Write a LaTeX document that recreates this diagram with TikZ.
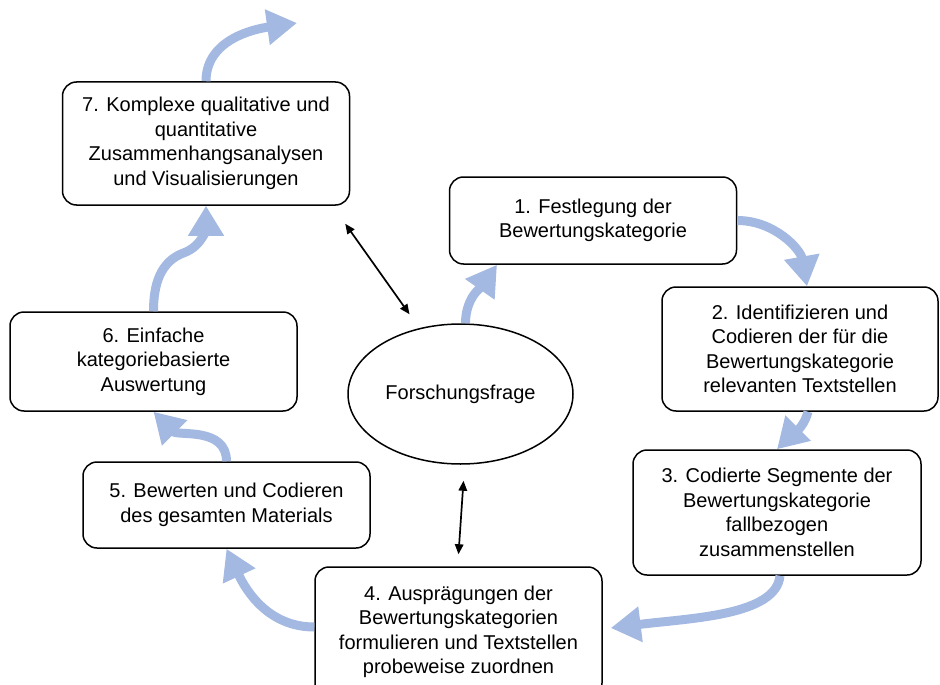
\documentclass[tikz,border=0pt]{standalone}
\usepackage{fontspec}
\setmainfont{Liberation Sans}
\usepackage{tikz}
\usepackage{xcolor}
\usetikzlibrary{arrows.meta,shapes.geometric}
\definecolor{flowblue}{RGB}{164,185,225}
\tikzset{
    step-box/.style = {draw=black, fill=white, line width=1.5pt, rectangle, rounded corners=14pt, align=center, inner sep=0pt, minimum width=287pt, font=\fontsize{20}{24.5}\selectfont},
    question-ellipse/.style = {draw=black, fill=white, line width=1.5pt, ellipse, inner sep=0pt, minimum width=225pt, minimum height=140pt, font=\fontsize{20}{24}\selectfont},
    flow-arrow/.style = {draw=flowblue, line width=9pt, -{Triangle[length=30pt, width=34pt]}},
    link-arrow/.style = {draw=black, line width=1.7pt, {Triangle[length=10pt, width=8.5pt]}-{Triangle[length=10pt, width=8.5pt]}},
}
\begin{document}
\begin{tikzpicture}[x=1pt, y=1pt]
\useasboundingbox (0,0) rectangle (940,-685);
\node [step-box, minimum height=123pt] (b7) at (206,-143.5) {7. Komplexe qualitative und\\quantitative\\Zusammenhangsanalysen\\und Visualisierungen};
\node [step-box, minimum height=87pt] (b1) at (593,-220.5) {1. Festlegung der\\Bewertungskategorie};
\node [step-box, minimum width=276pt, minimum height=124pt] (b2) at (800,-349) {2. Identifizieren und\\Codieren der für die\\Bewertungskategorie\\relevanten Textstellen};
\node [step-box, minimum width=288pt, minimum height=125pt] (b3) at (777,-512.5) {3. Codierte Segmente der\\Bewertungskategorie\\fallbezogen\\zusammenstellen};
\node [step-box, minimum height=130pt] (b4) at (458.5,-632) {4. Ausprägungen der\\Bewertungskategorien\\formulieren und Textstellen\\probeweise zuordnen};
\node [step-box, minimum height=86pt] (b5) at (226.5,-505) {5. Bewerten und Codieren\\des gesamten Materials};
\node [step-box, minimum height=99pt] (b6) at (153.5,-361.5) {6. Einfache\\kategoriebasierte\\Auswertung};
\node [question-ellipse] (frage) at (460.5,-394) {Forschungsfrage};

\coordinate (weiter) at (297,-23);
\coordinate (knick) at ([shift={(-22,-47)}]b7.south);
\coordinate (q7) at ([shift={(-5,-18)}]b7.south east);
\coordinate (qf) at ([shift={(-51,9)}]frage.north);
\coordinate (qu) at ([shift={(3,-16)}]frage.south);
\coordinate (q4) at ([shift={(0,12)}]b4.north);

\draw [flow-arrow] ([xshift=5pt]frage.north) to[out=90, in=235] ([xshift=-96pt]b1.south);
\draw [flow-arrow] (b1.east) to[out=0, in=100] ([xshift=7pt]b2.north);
\draw [flow-arrow] ([xshift=8pt]b2.south) to[out=-105, in=45] (b3.north);
\draw [flow-arrow] ([xshift=3pt]b3.south) .. controls +(-4,-40) and +(80,10) .. ([shift={(8,4)}]b4.east);
\draw [flow-arrow] ([yshift=5pt]b4.west) to[out=180, in=-65] (b5.south);
\draw [flow-arrow] (b5.north) to[out=90, in=-45] (b6.south);
\draw [flow-arrow] (b6.north) to[out=90, in=200] (knick) to[out=20, in=-90] (b7.south);
\draw [flow-arrow] (b7.north) to[out=90, in=188] (weiter);

\draw [link-arrow] (q7) -- (qf);
\draw [link-arrow] (qu) -- (q4);
\end{tikzpicture}
\end{document}
